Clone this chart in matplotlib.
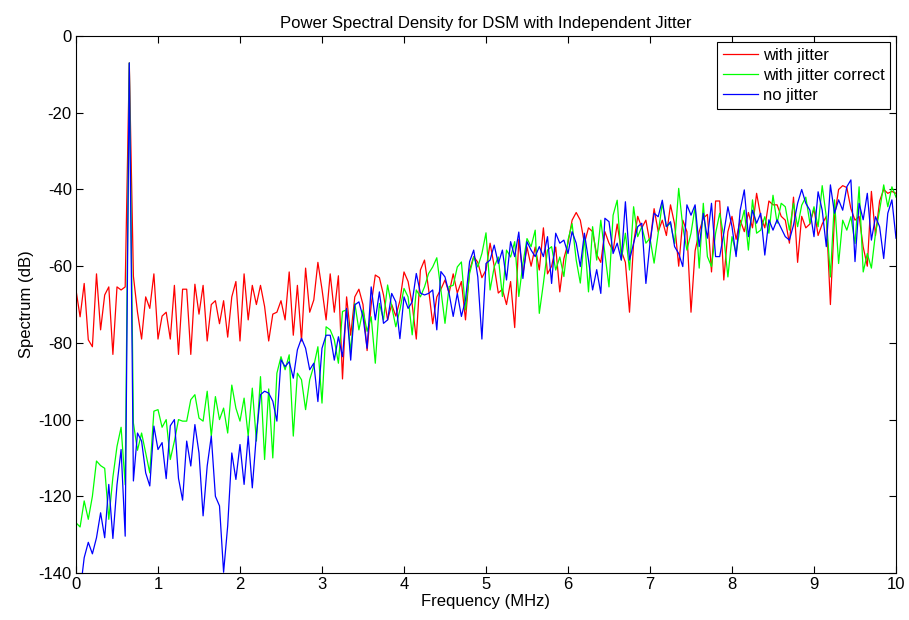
import numpy as np
import matplotlib
matplotlib.use("Agg")
import matplotlib.pyplot as plt

plt.rcParams['font.family'] = ['Liberation Sans', 'DejaVu Sans']
plt.rcParams['axes.unicode_minus'] = False

# frequency grid in MHz (0.05 MHz step)
freq = np.linspace(0, 10, 201)

# spectrum values (dB)
red = [
    -66.2, -73.2, -64.5, -79.2, -81, -62, -76.6, -67.5, -65.4, -83, -65.4, -66.2, -65.4,
    -7,
    -62.6, -72, -79, -68, -71, -62, -79, -73, -72, -79,
    -65, -83, -66, -66, -83, -64.7, -72.5, -65, -79.5, -70,
    -69, -75, -69, -78.5, -68, -64, -79.5, -62, -74, -65,
    -70, -65, -70.5, -79.5, -72.5, -72, -69, -74, -61.5, -78,
    -65, -79.5, -60.5, -72,
    -68.8, -59, -66, -74, -62, -72, -62.5, -89.4, -68, -78,
    -68, -66, -70, -82, -70, -62.3, -63, -67.5, -74, -70,
    -73, -69, -61.5, -64, -70, -79, -61, -58.4, -66,
    -75, -68, -66, -63.6, -67, -62, -67, -64, -74, -61,
    -57.5, -59, -63, -61, -54, -60, -67, -66, -70, -64,
    -76, -53, -62, -55, -60, -55, -61, -50, -62,
    -60, -55, -66.7, -58, -54, -48, -46, -48, -54, -50,
    -51, -57, -59, -51, -54, -56, -49, -56, -59, -72,
    -54, -47, -50, -48, -54, -45, -51, -48, -52,
    -44, -49, -60, -48, -51, -72, -56, -51, -47.5, -46.5,
    -61.5, -43, -43, -63.6, -51, -47, -53, -48, -51, -46,
    -50, -41, -47, -50, -43, -44, -44, -47, -48,
    -54, -42, -59, -47, -50, -49, -45, -52, -49, -47,
    -70, -47, -40, -39, -39.5, -45, -48, -47, -55, -60,
    -40.5, -52, -43, -40, -41, -40.5, -41,
]

green = [
    -126.9, -128, -121.2, -126, -120, -110.8, -112, -112.7, -126, -115, -107, -102, -117,
    -7,
    -100.9, -108, -103.5, -108.7, -113.9, -97.8, -97.4, -102, -100, -110.4,
    -105.6, -100, -100.4, -100.4, -94.8, -93.5, -99.6, -100.4, -92.6, -104.3,
    -94, -100, -97, -103.5, -91, -97, -100.4, -94.4, -104.3, -91.8,
    -105.6, -88.8, -110.4, -92, -110, -87.9, -83.6, -87, -83.1, -104.3,
    -87.9, -89.6, -97.4, -89.6,
    -86, -81, -95.7, -75.8, -76.6, -79.2, -85.3, -71.8, -71.4, -82.3,
    -69.7, -76.6, -71.4, -77, -73.2, -85.3, -69.7, -74, -64.9, -70.5,
    -75.8, -71.4, -65.8, -68, -77.9, -66.2, -68, -65.4, -61.9,
    -60.2, -57.8, -66.2, -74.9, -65.3, -65, -60.2, -58.9, -71.4, -61.9,
    -57.6, -60.2, -56.7, -51.3, -66.2, -60.2, -57.6, -67.9, -55.8, -57.6,
    -53.6, -67.9, -59.3, -52.8, -54.9, -50.6, -72.3, -64.5, -55.8,
    -54.9, -61, -57.6, -62.7, -53.2, -48.9, -58.4, -64.4, -52.3, -66.7,
    -49.7, -58.4, -48, -56.7, -65.4, -46.7, -42.8, -58.4, -51.4, -61,
    -44.5, -52.3, -49.7, -54, -52.7, -59.2, -51.4, -43.6, -49.7,
    -48.8, -54.1, -39.7, -49.7, -55.8, -51.4, -44.5, -60.5, -43.6, -57.5,
    -60.1, -51.4, -46.2, -52.3, -62.8, -52.3, -56.7, -49.7, -45.4, -55.8,
    -42.7, -51.4, -50.6, -47.1, -51.4, -41.5, -48.8, -43.6, -44.5,
    -50.6, -43.6, -49.7, -44.1, -42, -48.8, -44.5, -49.7, -39, -47.1,
    -62.8, -42.7, -59.3, -48, -50.6, -47.1, -54.1, -39.3, -61.5, -56.7,
    -60.5, -51.4, -45.4, -38.8, -44.5, -39.3, -42,
]

blue = [
    -150, -145, -136, -132, -135, -130.8, -124.3, -130.8, -116.9, -131, -117, -107.8, -130.4,
    -7,
    -116, -103.5, -105.6, -113.9, -117.3, -101.7, -107.8, -106, -115.4, -101.6,
    -100, -115.3, -121, -105.6, -112.1, -101.3, -108.7, -125.1, -112.1, -104.3,
    -120, -122.5, -139.8, -127.7, -108.7, -115.6, -106.5, -116.9, -104.3, -117.8,
    -103.9, -93.5, -92.6, -93.1, -95.2, -100.4, -84.4, -86.2, -84.9, -89.2,
    -81.8, -78.8, -81.4, -87,
    -85.3, -95.3, -81.4, -78, -78, -84.5, -78.4, -83.6, -71, -84.5,
    -70.1, -69.3, -73.2, -81.4, -65.4, -74, -66.7, -74.9, -74, -67.1,
    -69.3, -78.9, -68, -71, -69.3, -61.9, -67, -67.5, -67.1,
    -66.2, -76.6, -61.4, -62.8, -67.1, -73.1, -67.1, -73.1, -68.8, -58.8,
    -55.8, -62.8, -79, -59.3, -58.4, -54.5, -59.3, -55.8, -63.6, -53.6,
    -57.5, -51.1, -63.2, -53.6, -55.8, -57.5, -54.9, -57.5, -52.3,
    -64.5, -51.4, -54, -53.2, -56.7, -51, -54, -60.1, -51.4, -58.4,
    -66.2, -60.9, -67.1, -47.5, -48.4, -56.7, -54, -58.4, -43.2, -58.4,
    -54, -49.7, -48.8, -64.5, -54, -46.2, -47.1, -42.8, -49.7,
    -48.4, -54.9, -56.7, -60.1, -44, -46.7, -44, -54.9, -46.2, -52.7,
    -43.6, -57.5, -57.5, -51.4, -44.5, -49.7, -57.5, -45.4, -40.1, -52.3,
    -45.4, -48.8, -46.2, -57.1, -47.9, -50.6, -47.9, -50.1, -52.3,
    -53.2, -49.3, -43.6, -40, -43.6, -45.4, -52.3, -40.6, -45.4, -54.9,
    -38.8, -46.2, -42.7, -45.4, -39.3, -37.5, -58.8, -43.6, -47.9, -41,
    -53.2, -47.1, -49.7, -58, -46.2, -42.7, -52.7,
]

labels = ['with jitter', 'with jitter correct', 'no jitter']

fig = plt.figure(figsize=(9.09, 6.2), dpi=100)
ax = fig.add_axes([0.0836, 0.0758, 0.9021, 0.866])

ax.plot(freq, red, color=(1, 0, 0), lw=0.9, label=labels[0])
ax.plot(freq, green, color=(0, 1, 0), lw=0.9, label=labels[1])
ax.plot(freq, blue, color=(0, 0, 1), lw=0.9, label=labels[2])

ax.set_xlim(0, 10)
ax.set_ylim(-140, 0)
ax.set_xticks(np.arange(0, 11, 1))
ax.set_yticks(np.arange(-140, 1, 20))
ax.tick_params(direction='in', top=True, right=True, length=5, labelsize=12, pad=3)
for s in ax.spines.values():
    s.set_linewidth(0.8)

ax.set_title('Power Spectral Density for DSM with Independent Jitter', fontsize=12, pad=6)
ax.set_xlabel('Frequency (MHz)', fontsize=12, labelpad=1)
ax.set_ylabel('Spectrum (dB)', fontsize=12, labelpad=3)

leg = ax.legend(loc='upper right', fontsize=12, fancybox=False, framealpha=1,
                edgecolor='black', borderaxespad=0.35, handlelength=2.1,
                handletextpad=0.3, borderpad=0.35, labelspacing=0.3)
leg.get_frame().set_linewidth(0.8)

fig.savefig('out.png', dpi=100)
